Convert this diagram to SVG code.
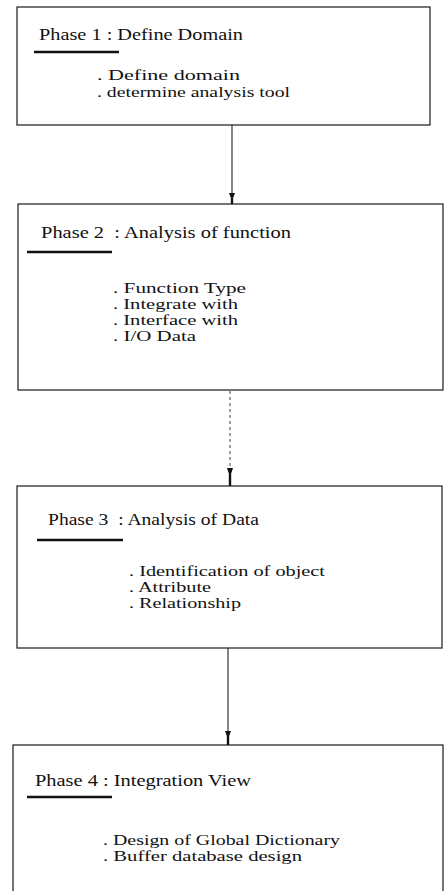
<svg xmlns="http://www.w3.org/2000/svg" width="447" height="891" viewBox="0 0 447 891">
<defs>
<style>
.box{fill:#fff;stroke:#1a1a1a;stroke-width:1.2}
.t{font-family:"Liberation Serif","DejaVu Serif",serif;font-size:17px;fill:#111}
.i{font-family:"Liberation Serif","DejaVu Serif",serif;font-size:14.5px;fill:#111}
.ul{stroke:#111;stroke-width:2.6}
.con{stroke:#222;stroke-width:1.1;fill:none}
.dot{stroke:#555;stroke-width:1.1;stroke-dasharray:3 3;fill:none}
.stub{stroke:#111;stroke-width:2.4}
.head{fill:#111}
</style>
</defs>
<rect width="447" height="891" fill="#fff"/>
<g id="connectors">
<line class="con" x1="232" y1="125" x2="232" y2="196"/>
<polygon class="head" points="229,193 235,193 232,201"/>
<line class="stub" x1="232" y1="199" x2="232" y2="204"/>
<line class="dot" x1="230" y1="391" x2="230" y2="472"/>
<polygon class="head" points="227,468 233,468 230,477"/>
<line class="stub" x1="230" y1="474" x2="230" y2="486"/>
<line class="con" x1="228" y1="648" x2="228" y2="734"/>
<polygon class="head" points="225,731 231,731 228,739"/>
<line class="stub" x1="228" y1="736" x2="228" y2="745"/>
</g>
<g id="phase1">
<rect class="box" x="17" y="7" width="413" height="118"/>
<text class="t" font-family="Liberation Serif, serif" x="39" y="40" textLength="204" lengthAdjust="spacingAndGlyphs">Phase 1 : Define Domain</text>
<line class="ul" x1="34" y1="52" x2="119" y2="52"/>
<text class="i" font-family="Liberation Serif, serif" x="97" y="80" textLength="143" lengthAdjust="spacingAndGlyphs">. Define domain</text>
<text class="i" font-family="Liberation Serif, serif" x="97" y="97" textLength="193" lengthAdjust="spacingAndGlyphs">. determine analysis tool</text>
</g>
<g id="phase2">
<rect class="box" x="18" y="204" width="425" height="186"/>
<text class="t" font-family="Liberation Serif, serif" x="41" y="238" textLength="250" lengthAdjust="spacingAndGlyphs" xml:space="preserve">Phase 2  : Analysis of function</text>
<line class="ul" x1="27" y1="252" x2="112" y2="252"/>
<text class="i" font-family="Liberation Serif, serif" x="113" y="293" textLength="133" lengthAdjust="spacingAndGlyphs">. Function Type</text>
<text class="i" font-family="Liberation Serif, serif" x="113" y="309" textLength="125" lengthAdjust="spacingAndGlyphs">. Integrate with</text>
<text class="i" font-family="Liberation Serif, serif" x="113" y="325" textLength="125" lengthAdjust="spacingAndGlyphs">. Interface with</text>
<text class="i" font-family="Liberation Serif, serif" x="113" y="341" textLength="83" lengthAdjust="spacingAndGlyphs">. I/O Data</text>
</g>
<g id="phase3">
<rect class="box" x="17" y="486" width="425" height="162"/>
<text class="t" font-family="Liberation Serif, serif" x="48" y="525" textLength="211" lengthAdjust="spacingAndGlyphs" xml:space="preserve">Phase 3  : Analysis of Data</text>
<line class="ul" x1="37" y1="540" x2="123" y2="540"/>
<text class="i" font-family="Liberation Serif, serif" x="129" y="576" textLength="196" lengthAdjust="spacingAndGlyphs">. Identification of object</text>
<text class="i" font-family="Liberation Serif, serif" x="129" y="592" textLength="82" lengthAdjust="spacingAndGlyphs">. Attribute</text>
<text class="i" font-family="Liberation Serif, serif" x="129" y="608" textLength="112" lengthAdjust="spacingAndGlyphs">. Relationship</text>
</g>
<g id="phase4">
<rect class="box" x="13" y="745" width="430" height="160"/>
<text class="t" font-family="Liberation Serif, serif" x="35" y="786" textLength="216" lengthAdjust="spacingAndGlyphs">Phase 4 : Integration View</text>
<line class="ul" x1="27" y1="797" x2="112" y2="797"/>
<text class="i" font-family="Liberation Serif, serif" x="103" y="845" textLength="237" lengthAdjust="spacingAndGlyphs">. Design of Global Dictionary</text>
<text class="i" font-family="Liberation Serif, serif" x="103" y="861" textLength="199" lengthAdjust="spacingAndGlyphs">. Buffer database design</text>
</g>
</svg>
